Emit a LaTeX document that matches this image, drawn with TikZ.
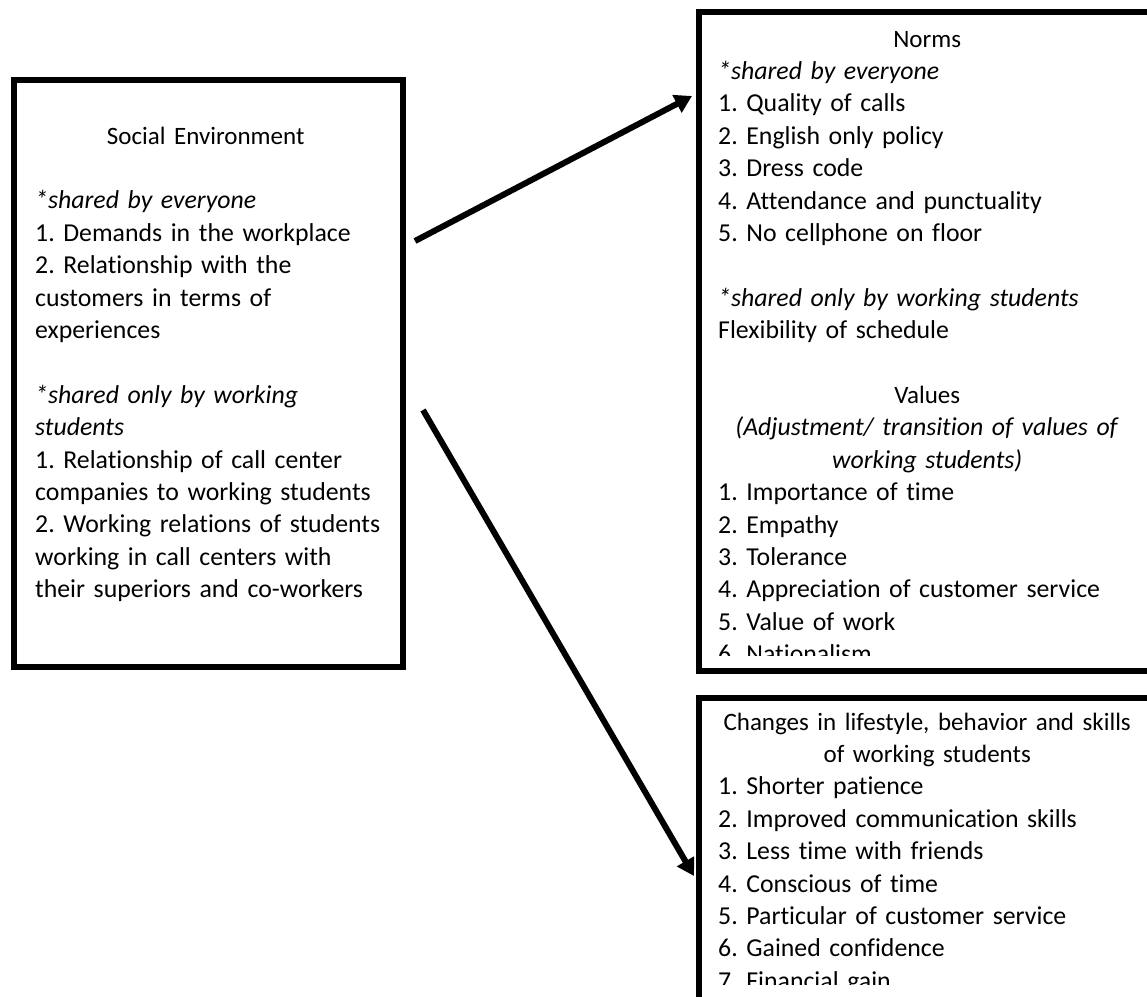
\documentclass[tikz,border=0pt]{standalone}
\usepackage{fontspec}
\setmainfont{Carlito}[Ligatures={CommonOff,ContextualOff}]
\usetikzlibrary{arrows.meta}
\tikzset{
  boxframe/.style={draw=black, line width=6pt, rectangle, inner sep=0pt, anchor=north west},
  txt/.style={anchor=base west, inner sep=0pt, align=left, font=\fontsize{25.8}{32.4}\selectfont\frenchspacing},
  arr/.style={line width=6pt, -{Triangle[length=17pt,width=19pt]}}
}
\newcommand{\hd}[1]{{\fontsize{25}{32.4}\selectfont #1}}
\newcommand{\ctrL}[1]{\makebox[341pt][c]{#1}}
\newcommand{\ctrR}[1]{\makebox[418pt][c]{#1}}
\begin{document}
\begin{tikzpicture}[x=1pt,y=-1pt]
\useasboundingbox[fill=white] (0,0) rectangle (1147,996);
% boxes
\node[boxframe, minimum width=389pt, minimum height=587pt] (social) at (11,77) {};
\node[boxframe, minimum width=520pt, minimum height=659pt] (norms) at (695.5,9) {};
\node[boxframe, minimum width=520pt, minimum height=400pt] (changes) at (695.5,695) {};
% texts
\node[txt, text width=400pt] (socialtxt) at (35,144) {%
\ctrL{\hd{Social Environment}}\\
\mbox{}\\
\textit{*shared by everyone}\\
1. Demands in the workplace\\
2. Relationship with the\\
customers in terms of\\
experiences\\
\mbox{}\\
\textit{*shared only by working}\\
\textit{students}\\
1. Relationship of call center\\
companies to working students\\
2. Working relations of students\\
working in call centers with\\
their superiors and co-workers};
\begin{scope}
\clip (698,12) rectangle (1147,655);
\node[txt, text width=430pt] (normstxt) at (718,47) {%
\ctrR{\hd{Norms}}\\
\textit{*shared by everyone}\\
1. Quality of calls\\
2. English only policy\\
3. Dress code\\
4. Attendance and punctuality\\
5. No cellphone on floor\\
\mbox{}\\
\textit{*shared only by working students}\\
Flexibility of schedule\\
\mbox{}\\
\ctrR{\hd{Values}}\\
\ctrR{\textit{(Adjustment/ transition of values of}}\\
\ctrR{\textit{working students)}}\\
1. Importance of time\\
2. Empathy\\
3. Tolerance\\
4. Appreciation of customer service\\
5. Value of work\\
6. Nationalism};
\end{scope}
\begin{scope}
\clip (698,698) rectangle (1147,984);
\node[txt, text width=430pt] (changestxt) at (718,730) {%
\ctrR{\hd{Changes in lifestyle, behavior and skills}}\\
\ctrR{\hd{of working students}}\\
1. Shorter patience\\
2. Improved communication skills\\
3. Less time with friends\\
4. Conscious of time\\
5. Particular of customer service\\
6. Gained confidence\\
7. Financial gain};
\end{scope}
% connectors
\coordinate (a1s) at (415,241);
\coordinate (a1e) at (692,96);
\coordinate (a2s) at (423,410);
\coordinate (a2e) at (694,876);
\draw[arr] (a1s) -- (a1e);
\draw[arr] (a2s) -- (a2e);
\end{tikzpicture}
\end{document}
